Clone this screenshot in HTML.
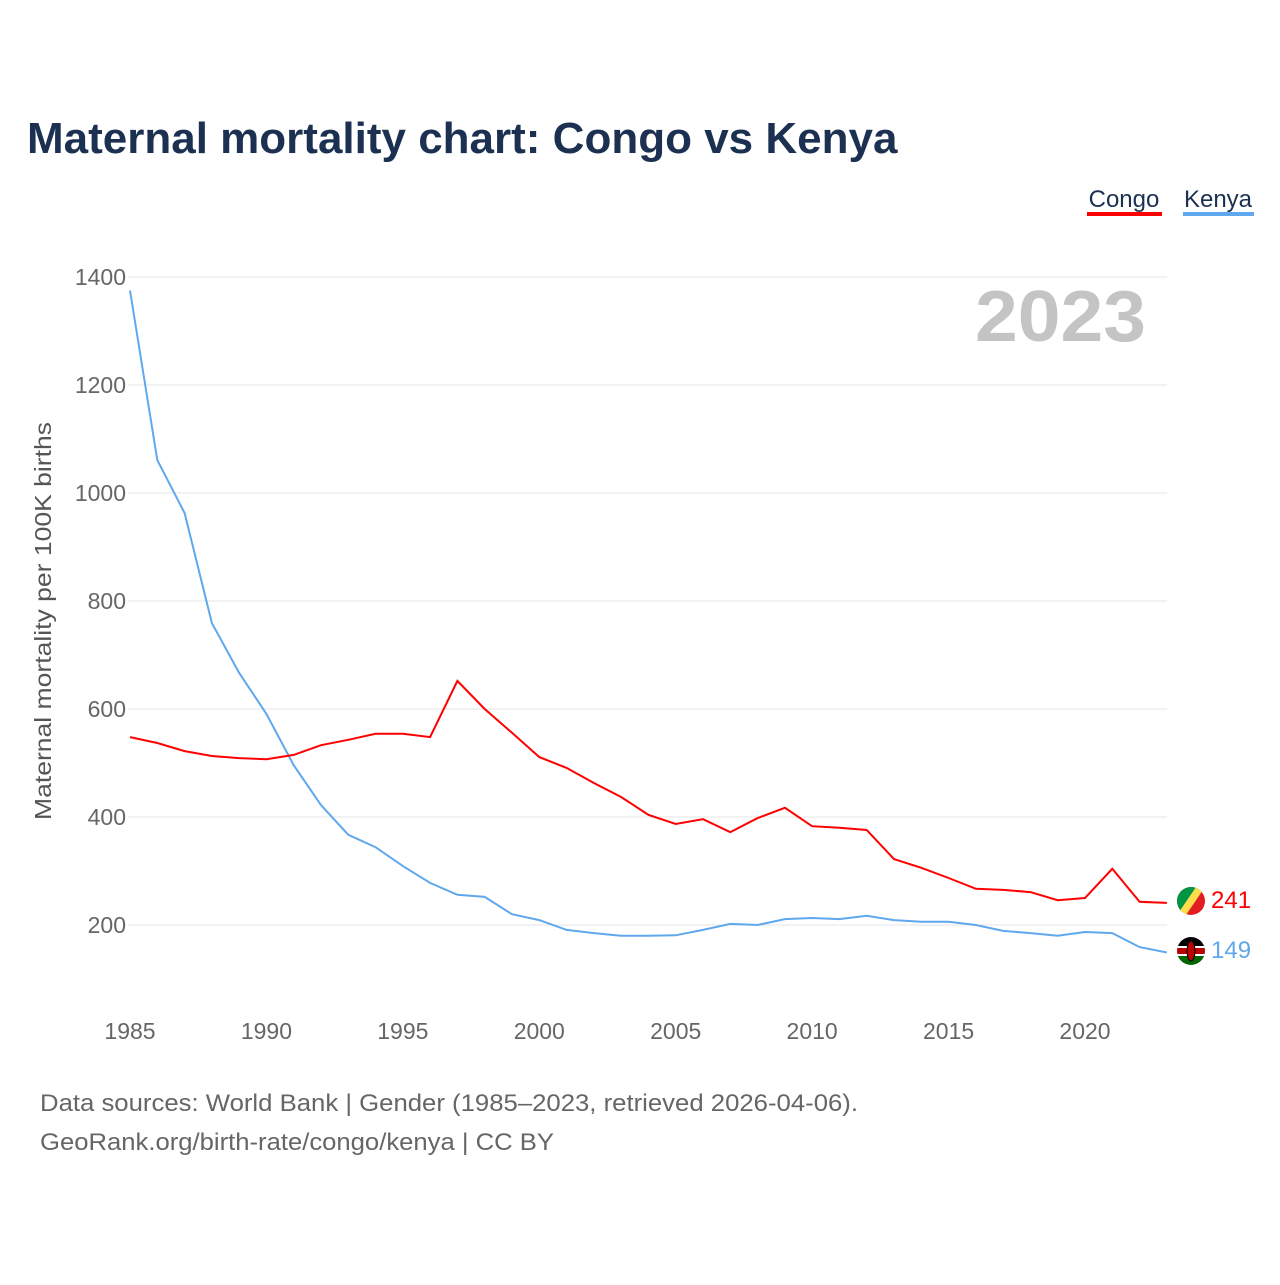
<!DOCTYPE html>
<html><head><meta charset="utf-8"><style>
body{margin:0;background:#fff;font-family:"Liberation Sans",sans-serif}
</style></head><body>
<svg width="1280" height="1280" xmlns="http://www.w3.org/2000/svg" font-family="Liberation Sans, sans-serif" id="chart">
<text x="27" y="153" font-size="44" font-weight="bold" fill="#1c3152">Maternal mortality chart: Congo vs Kenya</text>
<g>
<text x="1124" y="207" font-size="24" fill="#1c3152" text-anchor="middle">Congo</text>
<rect x="1087" y="212" width="75" height="4" fill="#f00"/>
<text x="1218" y="207" font-size="24" fill="#1c3152" text-anchor="middle">Kenya</text>
<rect x="1183" y="212" width="71" height="4" fill="#5fa8ee"/>
</g>
<text x="975" y="341" font-size="72" font-weight="bold" fill="#c4c4c4" textLength="171" lengthAdjust="spacingAndGlyphs">2023</text>
<g id="grid"></g>
<g id="yticks"></g>
<g id="xticks"></g>
<text transform="translate(51,820) rotate(-90)" font-size="23" fill="#555" textLength="398" lengthAdjust="spacingAndGlyphs">Maternal mortality per 100K births</text>
<g id="series"></g>
<g>
<clipPath id="cc"><circle cx="1191" cy="901" r="14"/></clipPath>
<g clip-path="url(#cc)"><rect x="1177" y="887" width="28" height="28" fill="#e31b23"/><polygon points="1177,887 1205,887 1177,915" fill="#009543"/><polygon points="1196,887 1205,887 1186,915 1177,915" fill="#fbde4a"/></g></g>
<g>
<clipPath id="ck"><circle cx="1191" cy="951" r="14"/></clipPath>
<g clip-path="url(#ck)"><rect x="1177" y="937" width="28" height="10" fill="#000"/><rect x="1177" y="947" width="28" height="8" fill="#bb0000"/><rect x="1177" y="946" width="28" height="2" fill="#fff"/><rect x="1177" y="954" width="28" height="2" fill="#fff"/><rect x="1177" y="956" width="28" height="10" fill="#006600"/><ellipse cx="1191" cy="951" rx="4" ry="10" fill="#bb0000" stroke="#000" stroke-width="1"/></g></g>
<text x="1211" y="908" font-size="24" fill="#f00">241</text>
<text x="1211" y="958" font-size="24" fill="#5fa8ee">149</text>
<text x="40" y="1111" font-size="24" fill="#666" textLength="818" lengthAdjust="spacingAndGlyphs">Data sources: World Bank | Gender (1985–2023, retrieved 2026-04-06).</text>
<text x="40" y="1150" font-size="24" fill="#666" textLength="514" lengthAdjust="spacingAndGlyphs">GeoRank.org/birth-rate/congo/kenya | CC BY</text>
</svg>
<script>
const years=[];for(let y=1985;y<=2023;y++)years.push(y);
const congo=[548,537,522,513,509,507,515,533,543,554,554,548,652,600,556,511,491,463,437,404,387,396,372,398,417,383,380,376,322,306,287,267,265,261,246,250,304,243,241];
const kenya=[1375,1061,963,759,667,591,496,422,367,344,309,278,256,252,220,209,191,185,180,180,181,191,202,200,211,213,211,217,209,206,206,200,189,185,180,187,185,159,149];
const yTicks=[200,400,600,800,1000,1200,1400];
const xTicks=[1985,1990,1995,2000,2005,2010,2015,2020];
const NS="http://www.w3.org/2000/svg";
const X=y=>130+(y-1985)*(955/35);
const Y=v=>925-(v-200)*0.54;
const grid=document.getElementById('grid'),yt=document.getElementById('yticks'),xt=document.getElementById('xticks'),ser=document.getElementById('series');
yTicks.forEach(v=>{
 const l=document.createElementNS(NS,'line');
 l.setAttribute('x1',128);l.setAttribute('x2',1167);l.setAttribute('y1',Y(v));l.setAttribute('y2',Y(v));
 l.setAttribute('stroke','#e6e6e6');l.setAttribute('stroke-width',1);
 
 
 grid.appendChild(l);
 const t=document.createElementNS(NS,'text');
 t.setAttribute('x',126);t.setAttribute('y',Y(v)+8);t.setAttribute('text-anchor','end');
 t.setAttribute('font-size',23);t.setAttribute('fill','#666');t.textContent=v;
 
 
 yt.appendChild(t);
});
xTicks.forEach(v=>{
 const t=document.createElementNS(NS,'text');
 t.setAttribute('x',X(v));t.setAttribute('y',1039);t.setAttribute('text-anchor','middle');
 t.setAttribute('font-size',23);t.setAttribute('fill','#666');t.textContent=v;
 
 
 xt.appendChild(t);
});
function line(vals,color,name){
 const p=document.createElementNS(NS,'path');
 p.setAttribute('d',vals.map((v,i)=>(i?'L':'M')+X(years[i]).toFixed(1)+','+Y(v).toFixed(1)).join(''));
 p.setAttribute('fill','none');p.setAttribute('stroke',color);p.setAttribute('stroke-width',2);
 
 
 ser.appendChild(p);
}
line(kenya,'#5fa8ee','kenya-line');
line(congo,'#f00','congo-line');
</script>
</body></html>
